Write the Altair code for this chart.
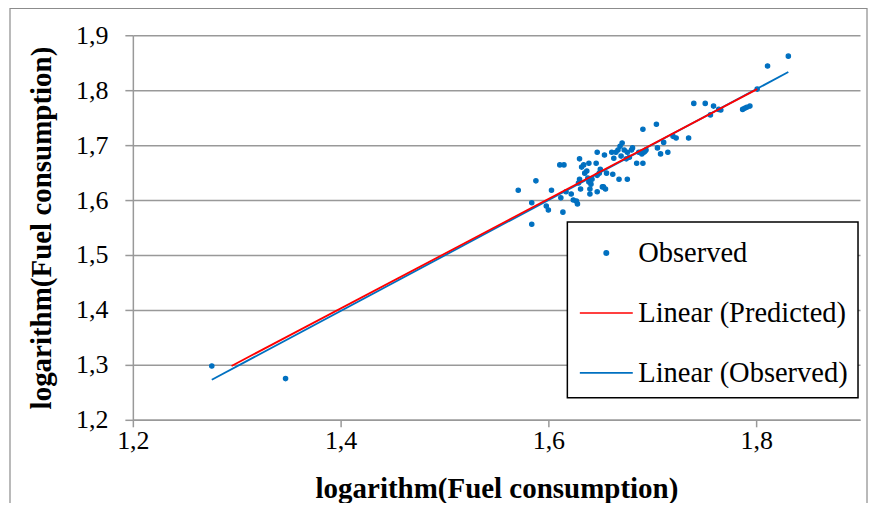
import altair as alt
import pandas as pd

# Observed scatter values (log fuel consumption, observed vs. predicted)
obs_x = [1.571, 1.588, 1.584, 1.584, 1.598, 1.600, 1.603, 1.611, 1.615, 1.614,
         1.612, 1.617, 1.622, 1.624, 1.627, 1.628, 1.630, 1.632, 1.634, 1.630,
         1.629, 1.631, 1.635, 1.637, 1.639, 1.640, 1.640, 1.638, 1.639, 1.642,
         1.641, 1.646, 1.647, 1.647, 1.647, 1.650, 1.653, 1.655, 1.654, 1.656,
         1.661, 1.662, 1.663, 1.665, 1.667, 1.669, 1.671, 1.673, 1.670, 1.668,
         1.676, 1.675, 1.678, 1.676, 1.681, 1.685, 1.687, 1.690, 1.692, 1.694,
         1.691, 1.691, 1.704, 1.705, 1.708, 1.711, 1.715, 1.720, 1.723, 1.735,
         1.740, 1.751, 1.756, 1.759, 1.764, 1.766, 1.787, 1.789, 1.791, 1.794,
         1.801, 1.811, 1.831, 1.689, 1.693, 1.652, 1.649, 1.680, 1.276, 1.347]
obs_y = [1.618, 1.635, 1.595, 1.556, 1.589, 1.582, 1.618, 1.664, 1.664, 1.578,
         1.604, 1.615, 1.611, 1.600, 1.598, 1.593, 1.675, 1.660, 1.664, 1.638,
         1.631, 1.620, 1.649, 1.653, 1.667, 1.620, 1.611, 1.640, 1.633, 1.638,
         1.629, 1.667, 1.687, 1.645, 1.615, 1.656, 1.624, 1.620, 1.682, 1.649,
         1.687, 1.647, 1.676, 1.687, 1.691, 1.698, 1.704, 1.691, 1.680, 1.638,
         1.638, 1.675, 1.678, 1.687, 1.695, 1.667, 1.687, 1.684, 1.687, 1.691,
         1.667, 1.729, 1.738, 1.695, 1.684, 1.705, 1.687, 1.716, 1.713, 1.713,
         1.776, 1.776, 1.755, 1.771, 1.765, 1.764, 1.765, 1.767, 1.769, 1.771,
         1.802, 1.844, 1.862, 1.687, 1.689, 1.624, 1.649, 1.691, 1.298, 1.275]

# Trend lines (end points)
pred_x = [1.295, 1.801]
pred_y = [1.298, 1.802]
fit_x = [1.276, 1.831]
fit_y = [1.273, 1.833]

series_names = ["Observed", "Linear (Predicted)", "Linear (Observed)"]
series_colors = ["#0070C0", "#FF0000", "#0070C0"]
series_shapes = ["M0,-0.11A0.11,0.11 0 1,1 0,0.11A0.11,0.11 0 1,1 0,-0.11Z",
                 "M-1.325,0H1.325", "M-1.325,0H1.325"]

y_ticks = [1.2, 1.3, 1.4, 1.5, 1.6, 1.7, 1.8, 1.9]
x_ticks = [1.2, 1.4, 1.6, 1.8]
axis_title = "logarithm(Fuel consumption)"

FONT = "Liberation Serif"
GRID = "#999999"
label_expr = "replace(format(datum.value, '.1f'), '.', ',')"

obs_df = pd.DataFrame({"x": obs_x, "y": obs_y, "series": ["Observed"] * len(obs_x)})
pred_df = pd.DataFrame({"x": pred_x, "y": pred_y})
fit_df = pd.DataFrame({"x": fit_x, "y": fit_y})

xscale = alt.Scale(domain=[1.2, 1.9], nice=False, zero=False)
yscale = alt.Scale(domain=[1.2, 1.9], nice=False, zero=False)

xaxis = alt.Axis(values=x_ticks, labelExpr=label_expr, grid=False, labelFlush=False,
                 domainColor=GRID, domainWidth=1.5, tickColor=GRID, tickWidth=1.5,
                 tickSize=7, labelPadding=1, labelFont=FONT, labelFontSize=26,
                 labelColor="black", title=axis_title, titleFont=FONT,
                 titleFontSize=29, titleFontWeight="bold", titleColor="black",
                 titlePadding=21)
yaxis = alt.Axis(values=y_ticks, labelExpr=label_expr, grid=True, gridColor=GRID,
                 gridWidth=1.5, domainColor=GRID, domainWidth=1.5, tickColor=GRID,
                 tickWidth=1.5, tickSize=8, labelPadding=17, labelFont=FONT,
                 labelFontSize=26, labelColor="black", title=axis_title,
                 titleFont=FONT, titleFontSize=29, titleFontWeight="bold",
                 titleColor="black", titlePadding=19)

leg = alt.Legend(title=None, orient="none", legendX=435, legendY=187,
                 strokeColor="black", fillColor="white", padding=10,
                 symbolSize=1600, symbolStrokeWidth=1.6, rowPadding=24,
                 labelFont=FONT, labelFontSize=28.5, labelColor="black", labelLimit=0,
                 labelOffset=11, symbolOffset=8, labelBaseline="middle")

points = alt.Chart(obs_df).mark_point(filled=True, size=1600, strokeWidth=1.2,
                                      opacity=1).encode(
    x=alt.X("x:Q", scale=xscale, axis=xaxis),
    y=alt.Y("y:Q", scale=yscale, axis=yaxis),
    fill=alt.Fill("series:N", scale=alt.Scale(domain=series_names, range=series_colors), legend=leg),
    stroke=alt.Stroke("series:N", scale=alt.Scale(domain=series_names, range=series_colors), legend=leg),
    shape=alt.Shape("series:N", scale=alt.Scale(domain=series_names, range=series_shapes), legend=leg),
)

fit_line = alt.Chart(fit_df).mark_line(color=series_colors[2], strokeWidth=1.8).encode(
    x=alt.X("x:Q", scale=xscale), y=alt.Y("y:Q", scale=yscale))
pred_line = alt.Chart(pred_df).mark_line(color=series_colors[1], strokeWidth=1.8).encode(
    x=alt.X("x:Q", scale=xscale), y=alt.Y("y:Q", scale=yscale))

frame = alt.Chart(pd.DataFrame({"f": [0]})).mark_rect(
    fillOpacity=0, stroke="#8c8c8c", strokeWidth=1.2).encode(
    x=alt.value(-123), x2=alt.value(735), y=alt.value(-27), y2=alt.value(470))

chart = alt.layer(frame, points, fit_line, pred_line).properties(
    width=728, height=385,
    autosize=alt.AutoSizeParams(type="none"),
    padding={"left": 125, "top": 27, "right": 9, "bottom": 83},
).configure_view(strokeOpacity=0).configure_legend(strokeWidth=1.5)

chart.save("out.html", embed_options={"renderer": "svg", "actions": False})
